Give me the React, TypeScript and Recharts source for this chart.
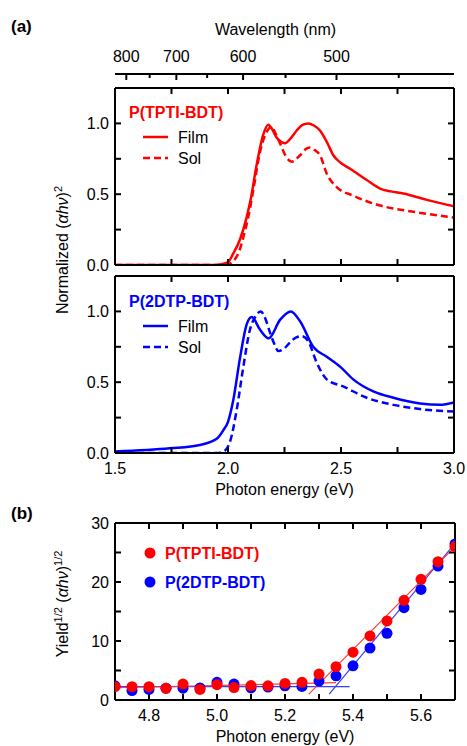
import React from 'react';
import { LineChart, ComposedChart, Line, Scatter, XAxis, YAxis, Label } from 'recharts';

const FONT = '"Liberation Sans", Arial, Helvetica, sans-serif';
const RED = '#ff0000';
const BLUE = '#0000ff';
const RED_FIT = '#ff3b3b';
const BLUE_FIT = '#3b3bff';

// ---- panel (a) axes ----
const energyTicks = [1.5, 1.75, 2.0, 2.25, 2.5, 2.75, 3.0];
const absTicks = [0, 0.25, 0.5, 0.75, 1.0];
const wavelengthTicks = [800, 750, 700, 650, 600, 550, 500, 450];

// ---- panel (a) spectra: [photon energy (eV), normalized (αhν)^2] ----
const tptiFilm: [number, number][] = [
  [1.5, 0], [1.8, 0], [1.93, 0], [1.965, 0.004], [2.0, 0.02], [2.023, 0.08], [2.053, 0.18],
  [2.083, 0.34], [2.1, 0.46], [2.127, 0.71], [2.156, 0.92], [2.178, 0.99], [2.195, 0.96],
  [2.215, 0.9], [2.252, 0.86], [2.28, 0.9], [2.304, 0.95], [2.33, 0.99], [2.355, 1.0],
  [2.38, 0.985], [2.407, 0.95], [2.44, 0.86], [2.466, 0.775], [2.5, 0.72], [2.54, 0.68],
  [2.614, 0.6], [2.673, 0.54], [2.72, 0.52], [2.776, 0.505], [2.88, 0.46], [3.0, 0.415],
];
const tptiSol: [number, number][] = [
  [1.5, 0], [1.8, 0], [1.98, 0], [2.0, 0.005], [2.023, 0.025], [2.05, 0.1], [2.075, 0.24],
  [2.09, 0.34], [2.112, 0.53], [2.142, 0.8], [2.165, 0.92], [2.193, 0.975], [2.21, 0.93],
  [2.23, 0.86], [2.255, 0.77], [2.282, 0.73], [2.319, 0.775], [2.345, 0.82], [2.363, 0.83],
  [2.385, 0.81], [2.407, 0.775], [2.437, 0.645], [2.481, 0.55], [2.554, 0.49], [2.673, 0.42],
  [2.805, 0.38], [3.0, 0.335],
];
const dtpFilm: [number, number][] = [
  [1.5, 0.01], [1.743, 0.033], [1.876, 0.057], [1.95, 0.1], [1.979, 0.16], [2.0, 0.22],
  [2.023, 0.37], [2.053, 0.67], [2.083, 0.91], [2.105, 0.96], [2.142, 0.87], [2.18, 0.81],
  [2.23, 0.94], [2.278, 1.0], [2.319, 0.93], [2.377, 0.75], [2.437, 0.68], [2.496, 0.61],
  [2.554, 0.52], [2.643, 0.435], [2.732, 0.39], [2.85, 0.35], [2.938, 0.34], [3.0, 0.357],
];
const dtpSol: [number, number][] = [
  [1.5, 0], [1.8, 0], [1.95, 0], [1.98, 0.01], [2.009, 0.08], [2.038, 0.3], [2.068, 0.61],
  [2.097, 0.87], [2.12, 0.96], [2.145, 1.0], [2.165, 0.95], [2.186, 0.85], [2.205, 0.77],
  [2.223, 0.72], [2.25, 0.74], [2.274, 0.78], [2.3, 0.815], [2.326, 0.825], [2.355, 0.79],
  [2.392, 0.64], [2.437, 0.52], [2.51, 0.47], [2.614, 0.39], [2.732, 0.34], [2.85, 0.31],
  [3.0, 0.293],
];

// ---- panel (b): photoelectron yield ----
const yieldTicksX = [4.7, 4.8, 4.9, 5.0, 5.1, 5.2, 5.3, 5.4, 5.5, 5.6, 5.7];
const yieldTicksY = [0, 5, 10, 15, 20, 25, 30];
const yieldEnergy = [4.7, 4.75, 4.8, 4.85, 4.9, 4.95, 5.0, 5.05, 5.1, 5.15, 5.2, 5.25, 5.3, 5.35, 5.4, 5.45, 5.5, 5.55, 5.6, 5.65, 5.7];
const tptiYield = [2.26, 2.26, 2.26, 1.98, 2.7, 1.8, 2.6, 2.1, 2.45, 2.4, 2.8, 3.0, 4.4, 5.65, 8.1, 10.85, 13.4, 16.9, 20.45, 23.45, 26.0];
const dtpYield = [2.4, 1.6, 1.8, 2.0, 2.0, 2.05, 3.0, 2.7, 2.05, 2.2, 2.4, 2.3, 3.2, 4.1, 5.8, 8.8, 11.3, 15.65, 18.75, 22.7, 26.45];
const tptiBaseFit: [number, number][] = [[4.7, 2.08], [5.35, 2.93]];
const tptiSlopeFit: [number, number][] = [[5.27, 1.0], [5.7, 26.0]];
const dtpBaseFit: [number, number][] = [[4.7, 2.26], [5.39, 2.26]];
const dtpSlopeFit: [number, number][] = [[5.33, 1.0], [5.7, 26.55]];

const pts = (a: [number, number][]) => a.map(([x, y]) => ({ x, y }));
const yieldPts = (ys: number[]) => yieldEnergy.map((x, i) => ({ x, y: ys[i] }));

const axisLine = { stroke: '#000', strokeWidth: 2 };
const tickLine = { stroke: '#000', strokeWidth: 2 };
const tickStyle = { fill: '#000', fontSize: 16, fontFamily: FONT };
const blank = () => '';

function WavelengthTick(props: any) {
  const { x, y, payload } = props;
  const lam = Math.round(1240 / payload.value);
  const major = lam % 100 === 0;
  return (
    <g>
      <line x1={x} x2={x} y1={y} y2={y + (major ? 7 : 4)} stroke="#000" strokeWidth={2} />
      {major && (
        <text x={x} y={y - 12} textAnchor="middle" fill="#000" fontSize={16} fontFamily={FONT}>
          {lam}
        </text>
      )}
    </g>
  );
}

function WavelengthAxis() {
  return (
    <LineChart width={467} height={80} margin={{ top: 0, right: 13, bottom: 0, left: 115 }} data={wavelengthTicks.map((l) => ({ x: 1240 / l }))}>
      <XAxis
        xAxisId="wl"
        dataKey="x"
        type="number"
        orientation="top"
        height={74}
        domain={[1.5, 3]}
        allowDataOverflow
        ticks={wavelengthTicks.map((l) => 1240 / l)}
        interval={0}
        tickLine={false}
        tickSize={0}
        tickMargin={0}
        axisLine={axisLine}
        tick={<WavelengthTick />}
      >
        <Label value="Wavelength (nm)" position="insideTop" offset={24} dx={-9} fill="#000" fontSize={16} fontFamily={FONT} />
      </XAxis>
    </LineChart>
  );
}

function SpectrumPanel({ height, bottomH, film, sol, color, showLabels }: any) {
  const fmtE = (v: number) => ((v * 2) % 1 === 0 ? v.toFixed(1) : '');
  const fmtA = (v: number) => ((v * 2) % 1 === 0 ? v.toFixed(1) : '');
  return (
    <LineChart width={467} height={height} margin={{ top: 0, right: 0, bottom: 0, left: 0 }}>
      <XAxis
        xAxisId="b"
        dataKey="x"
        type="number"
        orientation="bottom"
        height={bottomH}
        domain={[1.5, 3]}
        allowDataOverflow
        ticks={energyTicks}
        interval={0}
        tickSize={-6}
        tickMargin={16}
        axisLine={axisLine}
        tickLine={tickLine}
        tick={tickStyle}
        tickFormatter={showLabels ? fmtE : blank}
      >
        {showLabels && (
          <Label value="Photon energy (eV)" position="insideBottom" offset={5} fill="#000" fontSize={16} fontFamily={FONT} />
        )}
      </XAxis>
      <XAxis
        xAxisId="t"
        dataKey="x"
        type="number"
        orientation="top"
        height={8}
        domain={[1.5, 3]}
        allowDataOverflow
        ticks={energyTicks}
        interval={0}
        tickSize={-6}
        tickMargin={10}
        axisLine={axisLine}
        tickLine={tickLine}
        tick={tickStyle}
        tickFormatter={blank}
      />
      <YAxis
        yAxisId="l"
        type="number"
        orientation="left"
        width={115}
        domain={[0, 1.25]}
        allowDataOverflow
        ticks={absTicks}
        interval={0}
        tickSize={-6}
        tickMargin={12}
        axisLine={axisLine}
        tickLine={tickLine}
        tick={tickStyle}
        tickFormatter={fmtA}
      />
      <YAxis
        yAxisId="r"
        type="number"
        orientation="right"
        width={13}
        domain={[0, 1.25]}
        allowDataOverflow
        ticks={absTicks}
        interval={0}
        tickSize={-6}
        tickMargin={10}
        axisLine={axisLine}
        tickLine={tickLine}
        tick={tickStyle}
        tickFormatter={blank}
      />
      <Line xAxisId="b" yAxisId="l" data={pts(sol)} dataKey="y" type="monotone" stroke={color} strokeWidth={2.5} strokeDasharray="7 4" dot={false} isAnimationActive={false} />
      <Line xAxisId="b" yAxisId="l" data={pts(film)} dataKey="y" type="monotone" stroke={color} strokeWidth={2.5} dot={false} isAnimationActive={false} />
    </LineChart>
  );
}

function YieldPanel() {
  const fmtX = (v: number) => (Math.round(v * 10) % 2 === 0 ? v.toFixed(1) : '');
  const fmtY = (v: number) => (v % 10 === 0 ? String(v) : '');
  const dot = (c: string) => (p: any) => <circle cx={p.cx} cy={p.cy} r={5.5} fill={c} />;
  return (
    <ComposedChart width={467} height={231} margin={{ top: 0, right: 0, bottom: 0, left: 0 }}>
      <XAxis
        xAxisId="b"
        dataKey="x"
        type="number"
        orientation="bottom"
        height={46}
        domain={[4.7, 5.7]}
        allowDataOverflow
        ticks={yieldTicksX}
        interval={0}
        tickSize={-6}
        tickMargin={16}
        axisLine={axisLine}
        tickLine={tickLine}
        tick={tickStyle}
        tickFormatter={fmtX}
      >
        <Label value="Photon energy (eV)" position="insideBottom" offset={4} fill="#000" fontSize={16} fontFamily={FONT} />
      </XAxis>
      <XAxis
        xAxisId="t"
        dataKey="x"
        type="number"
        orientation="top"
        height={8}
        domain={[4.7, 5.7]}
        allowDataOverflow
        ticks={yieldTicksX}
        interval={0}
        tickSize={-6}
        tickMargin={10}
        axisLine={axisLine}
        tickLine={tickLine}
        tick={tickStyle}
        tickFormatter={blank}
      />
      <YAxis
        yAxisId="l"
        type="number"
        orientation="left"
        width={115}
        domain={[0, 30]}
        allowDataOverflow
        ticks={yieldTicksY}
        interval={0}
        tickSize={-6}
        tickMargin={12}
        axisLine={axisLine}
        tickLine={tickLine}
        tick={tickStyle}
        tickFormatter={fmtY}
      />
      <YAxis
        yAxisId="r"
        type="number"
        orientation="right"
        width={12}
        domain={[0, 30]}
        allowDataOverflow
        ticks={yieldTicksY}
        interval={0}
        tickSize={-6}
        tickMargin={10}
        axisLine={axisLine}
        tickLine={tickLine}
        tick={tickStyle}
        tickFormatter={blank}
      />
      <Scatter xAxisId="b" yAxisId="l" data={yieldPts(dtpYield)} dataKey="y" fill={BLUE} shape={dot(BLUE)} isAnimationActive={false} />
      <Scatter xAxisId="b" yAxisId="l" data={yieldPts(tptiYield)} dataKey="y" fill={RED} shape={dot(RED)} isAnimationActive={false} />
      <Line xAxisId="b" yAxisId="l" data={pts(dtpBaseFit)} dataKey="y" type="linear" stroke={BLUE_FIT} strokeWidth={1.2} dot={false} isAnimationActive={false} />
      <Line xAxisId="b" yAxisId="l" data={pts(dtpSlopeFit)} dataKey="y" type="linear" stroke={BLUE_FIT} strokeWidth={1.2} dot={false} isAnimationActive={false} />
      <Line xAxisId="b" yAxisId="l" data={pts(tptiBaseFit)} dataKey="y" type="linear" stroke={RED_FIT} strokeWidth={1.2} dot={false} isAnimationActive={false} />
      <Line xAxisId="b" yAxisId="l" data={pts(tptiSlopeFit)} dataKey="y" type="linear" stroke={RED_FIT} strokeWidth={1.2} dot={false} isAnimationActive={false} />
    </ComposedChart>
  );
}

function SpecLegend({ title, color, y0 }: { title: string; color: string; y0: number }) {
  return (
    <g fontFamily={FONT} fontSize={16}>
      <text x={129} y={y0 + 6} fill={color} fontWeight="bold">{title}</text>
      <line x1={143} x2={168} y1={y0 + 25} y2={y0 + 25} stroke={color} strokeWidth={2.5} />
      <text x={178} y={y0 + 31} fill="#000">Film</text>
      <line x1={143} x2={168} y1={y0 + 46} y2={y0 + 46} stroke={color} strokeWidth={2.5} strokeDasharray="7 4" />
      <text x={178} y={y0 + 52} fill="#000">Sol</text>
    </g>
  );
}

export default function App() {
  const abs = (top: number, h: number): React.CSSProperties => ({ position: 'absolute', left: 0, top, width: 467, height: h });
  return (
    <div style={{ position: 'absolute', left: 0, top: 0, width: 467, height: 746, background: '#fff', overflow: 'hidden', fontFamily: FONT }}>
      <div style={abs(0, 80)}>
        <WavelengthAxis />
      </div>
      <div style={abs(80, 195)}>
        <SpectrumPanel height={195} bottomH={10} film={tptiFilm} sol={tptiSol} color={RED} showLabels={false} />
      </div>
      <div style={abs(268, 232)}>
        <SpectrumPanel height={232} bottomH={47} film={dtpFilm} sol={dtpSol} color={BLUE} showLabels={true} />
      </div>
      <div style={abs(515, 231)}>
        <YieldPanel />
      </div>
      <svg width={467} height={746} style={{ position: 'absolute', left: 0, top: 0, pointerEvents: 'none' }}>
        <text x={11} y={32} fontFamily={FONT} fontSize={17} fontWeight="bold" fill="#000">(a)</text>
        <text x={11} y={519} fontFamily={FONT} fontSize={17} fontWeight="bold" fill="#000">(b)</text>
        <text x={68} y={250} transform="rotate(-90 68 250)" textAnchor="middle" fontFamily={FONT} fontSize={16} fill="#000">
          Normalized (<tspan fontStyle="italic">αhν</tspan>)<tspan dy={-6} fontSize={11}>2</tspan>
        </text>
        <text x={68} y={604} transform="rotate(-90 68 604)" textAnchor="middle" fontFamily={FONT} fontSize={16} fill="#000">
          Yield<tspan dy={-6} fontSize={11}>1/2</tspan>
          <tspan dy={6}> (</tspan>
          <tspan fontStyle="italic">αhν</tspan>)<tspan dy={-6} fontSize={11}>1/2</tspan>
        </text>
        <SpecLegend title="P(TPTI-BDT)" color={RED} y0={112} />
        <SpecLegend title="P(2DTP-BDT)" color={BLUE} y0={301} />
        <g fontFamily={FONT} fontSize={16} fontWeight="bold">
          <circle cx={150} cy={553} r={5.5} fill={RED} />
          <text x={165} y={559} fill={RED}>P(TPTI-BDT)</text>
          <circle cx={150} cy={582} r={5.5} fill={BLUE} />
          <text x={165} y={588} fill={BLUE}>P(2DTP-BDT)</text>
        </g>
      </svg>
    </div>
  );
}
